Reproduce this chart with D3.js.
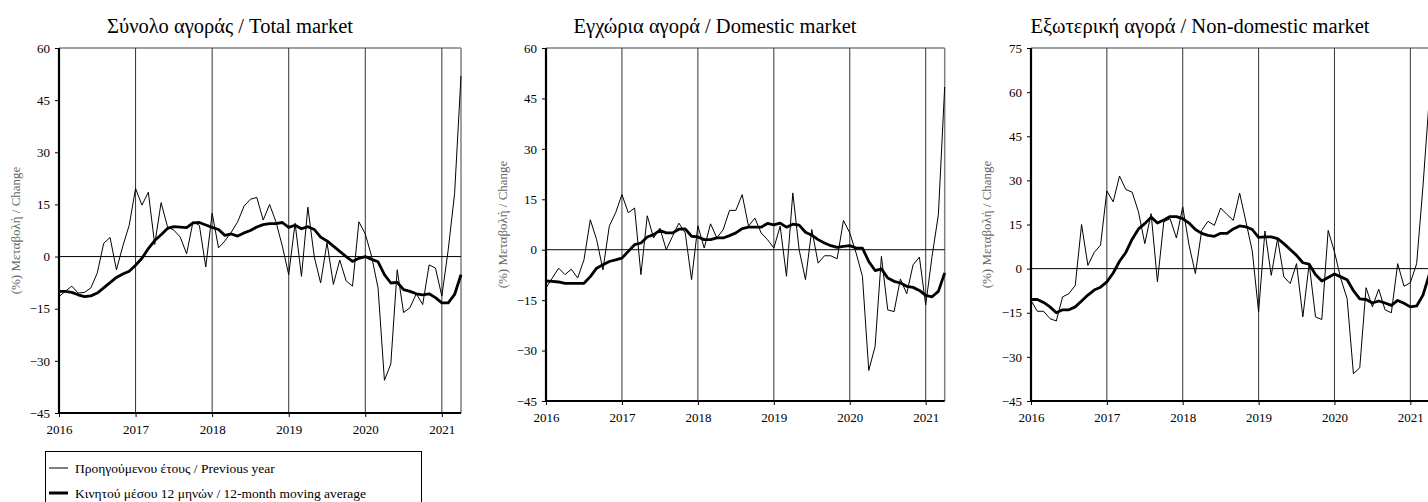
<!DOCTYPE html>
<html>
<head>
<meta charset="utf-8">
<script src="https://cdn.jsdelivr.net/npm/d3@7"></script>
<style>
  html, body { margin: 0; padding: 0; background: #fff; }
  svg { display: block; }
  svg text { font-family: "Liberation Serif", "DejaVu Serif", serif !important; fill: #000; }
</style>
</head>
<body>
<svg id="chart" width="1428" height="502"></svg>
<script>
// ---- Data (monthly, Jan 2016 – Apr 2021) ----
const years = ["2016", "2017", "2018", "2019", "2020", "2021"];
const titles = ["Σύνολο αγοράς / Total market", "Εγχώρια αγορά / Domestic market", "Εξωτερική αγορά / Non-domestic market"];
const yLabel = "(%) Μεταβολή / Change";
const legendLabels = ["Προηγούμενου έτους / Previous year", "Κινητού μέσου 12 μηνών / 12-month moving average"];

const totalPrev = [-11.5, -10, -8.5, -10.5, -10.3, -9, -4.7, 3.8, 5.5, -3.8, 3, 9,
  19.6, 14.8, 18.5, 3.5, 15.5, 8.6, 7.6, 5.6, 0.8, 10, 9, -3,
  12.5, 2.5, 4.5, 7, 10, 14.5, 16.5, 17, 10.5, 15, 10, 3,
  -5.2, 9.6, -5.7, 14.2, 0, -7.6, 4, -8, -1, -7, -8.5, 10,
  6.5, 0, -9, -35.6, -30.9, -3.8, -16.1, -14.7, -10.7, -13.8, -2.4, -3.3,
  -11.4, 2, 18.2, 52];
const totalMA = [-10, -10, -10.3, -11, -11.5, -11.3, -10.5, -9, -7.5, -6, -5, -4.2,
  -2.5, -0.5, 2.3, 4.6, 6.3, 8.1, 8.6, 8.5, 8.3, 9.7, 9.8, 9.1,
  8.4, 7.8, 6.1, 6.5, 5.9, 6.8, 7.5, 8.5, 9.2, 9.5, 9.5, 9.8,
  8.4, 9, 8, 8.6, 7.8, 5.6, 4.5, 3, 1.5, 0, -1.4, -0.5,
  0, -0.8, -1.5, -5.2, -7.6, -7.4, -9.5, -10, -10.7, -11, -10.7, -11.8,
  -13.3, -13.3, -10.9, -5.2];

const domPrev = [-11.4, -8.4, -5.5, -7.4, -5.8, -8.4, -3, 8.9, 3, -6, 7, 11,
  16.4, 11, 12.4, -7.4, 10.1, 3.5, 6.4, 0, 4, 7.9, 5, -8.9,
  7.1, 0.5, 7.7, 3.5, 6, 11.7, 11.7, 16.4, 7, 9.4, 5, 3,
  0.5, 7, -7.9, 16.9, 0, -8.9, 6, -4, -1.8, -1.8, -2.7, 8.7,
  5, -1, -7.9, -35.9, -28.8, -2, -17.9, -18.4, -8.7, -13.1, -4.5, -2.2,
  -16.4, -2, 10.4, 48.4];
const domMA = [-9.3, -9.4, -9.6, -10, -10, -10, -10, -8, -5.5, -4.5, -3.5, -3,
  -2.5, -0.5, 1.5, 2, 3.8, 4.5, 5.7, 5, 5, 6.1, 6.2, 4,
  3.8, 3, 3, 3.5, 3.5, 4.2, 5, 6.3, 6.7, 6.7, 6.7, 7.8,
  7.4, 7.9, 6.7, 7.6, 7.3, 5.2, 4.3, 3, 2, 1.2, 0.7, 1,
  1.2, 0.5, 0.5, -3.5, -6.2, -5.7, -8.4, -9.4, -9.9, -10.9, -11.2, -12.1,
  -13.6, -14, -12.4, -6.9];

const nonDomPrev = [-10.8, -14.5, -14.5, -17, -17.8, -9.6, -8.5, -5.7, 15, 1.1, 5.5, 8,
  26.4, 22.7, 31.5, 26.9, 26, 19.3, 8.5, 18.7, -4.5, 15.9, 17, 10.4,
  21, 8, -1.7, 13, 16.1, 14.7, 20.6, 18.4, 16.4, 25.7, 15.9, 6,
  -14.7, 12.8, -2.3, 10.2, -2.8, -5.1, 1.7, -16.4, 1.7, -16.4, -17.3, 13,
  5.7, -3.4, -10.2, -35.7, -33.7, -6.5, -13, -7, -14, -15, 1.7, -6,
  -4.8, 1.7, 28, 58];
const nonDomMA = [-10.5, -10.5, -11.5, -13, -15, -14, -14, -13, -11, -9, -7.3, -6.3,
  -4.5, -1.5, 2.5, 5.5, 10, 13.5, 15.3, 17.5, 15.5, 16.5, 17.7, 17.7,
  17, 15.5, 13.3, 12, 11.3, 11, 12, 12, 13.5, 14.5, 14.2, 13.3,
  10.6, 10.8, 10.8, 10.2, 8.5, 6.5, 4.5, 2, 1.5, -2, -4.2, -3,
  -1.8, -2.8, -3.8, -7.5, -10.3, -10.5, -11.7, -11, -11.7, -12.5, -10.8, -11.8,
  -13, -12.7, -9, -2];

// ---- Layout ----
const FONT = '"Liberation Serif", "DejaVu Serif", serif';
const svg = d3.select("#chart");
const panels = [
  { title: titles[0], prev: totalPrev, ma: totalMA, yDomain: [-45, 60],
    x0: 59, x1: 461, y0: 48, y1: 413, titleX: 230, labelX: 16 },
  { title: titles[1], prev: domPrev, ma: domMA, yDomain: [-45, 60],
    x0: 546, x1: 944.7, y0: 48, y1: 401, titleX: 715, labelX: 503 },
  { title: titles[2], prev: nonDomPrev, ma: nonDomMA, yDomain: [-45, 75],
    x0: 1031, x1: 1429.3, y0: 48, y1: 401, titleX: 1200, labelX: 987 }
];

panels.forEach(p => {
  const n = p.prev.length;
  const x = d3.scaleLinear().domain([0, n - 1]).range([p.x0, p.x1]);
  const y = d3.scaleLinear().domain(p.yDomain).range([p.y1, p.y0]);
  const g = svg.append("g");

  // title
  g.append("text").attr("x", p.titleX).attr("y", 33)
    .attr("text-anchor", "middle").style("font-size", "20.5px").style("font-family", FONT)
    .text(p.title);

  // y label
  g.append("text")
    .attr("transform", `translate(${p.labelX + 4},${(p.y0 + p.y1) / 2}) rotate(-90)`)
    .attr("text-anchor", "middle").style("font-size", "13px").style("fill", "#666")
    .style("font-family", FONT)
    .text(yLabel);

  // frame top / right (gray)
  g.append("line").attr("x1", p.x0).attr("x2", p.x1).attr("y1", p.y0).attr("y2", p.y0)
    .attr("stroke", "#808080").attr("stroke-width", 1.5);
  g.append("line").attr("x1", p.x1).attr("x2", p.x1).attr("y1", p.y0).attr("y2", p.y1)
    .attr("stroke", "#808080").attr("stroke-width", 1.5);

  // year gridlines
  const yearIdx = years.map((d, i) => i * 12);
  g.selectAll(".grid").data(yearIdx.slice(1)).enter().append("line")
    .attr("x1", d => x(d)).attr("x2", d => x(d))
    .attr("y1", p.y0).attr("y2", p.y1)
    .attr("stroke", "#333").attr("stroke-width", 1);

  // zero line
  g.append("line").attr("x1", p.x0).attr("x2", p.x1)
    .attr("y1", y(0)).attr("y2", y(0)).attr("stroke", "#000").attr("stroke-width", 1);

  // y axis
  const yTicks = d3.range(p.yDomain[0], p.yDomain[1] + 1, 15);
  const yAxis = d3.axisLeft(y).tickValues(yTicks).tickSize(4).tickPadding(5)
    .tickFormat(d3.format("d"));
  const ya = g.append("g").attr("transform", `translate(${p.x0},0)`).call(yAxis)
    .attr("font-family", FONT).attr("font-size", 13);
  ya.select(".domain").attr("stroke-width", 2.2).attr("d", `M0,${p.y0}V${p.y1}`);
  ya.selectAll("text").style("font-family", FONT).style("font-size", "13px");

  // x axis
  const xAxis = d3.axisBottom(x).tickValues(yearIdx).tickSize(4).tickPadding(8)
    .tickFormat((d, i) => years[i]);
  const xa = g.append("g").attr("transform", `translate(0,${p.y1})`).call(xAxis)
    .attr("font-family", FONT).attr("font-size", 13);
  xa.select(".domain").attr("stroke-width", 2.2).attr("d", `M${p.x0},0H${p.x1}`);
  xa.selectAll("text").style("font-family", FONT).style("font-size", "13px");

  // lines
  const line = d3.line().x((d, i) => x(i)).y(d => y(d));
  g.append("path").datum(p.prev).attr("d", line)
    .attr("fill", "none").attr("stroke", "#000").attr("stroke-width", 1)
    .attr("stroke-linejoin", "miter");
  g.append("path").datum(p.ma).attr("d", line)
    .attr("fill", "none").attr("stroke", "#000").attr("stroke-width", 2.8)
    .attr("stroke-linejoin", "round");
});

// ---- Legend ----
const lg = svg.append("g");
lg.append("rect").attr("x", 45.5).attr("y", 451.5).attr("width", 376).attr("height", 60)
  .attr("fill", "none").attr("stroke", "#000").attr("stroke-width", 1);
[[468, 1], [493, 3]].forEach(([yy, w], i) => {
  lg.append("line").attr("x1", 49).attr("x2", 68).attr("y1", yy).attr("y2", yy)
    .attr("stroke", "#000").attr("stroke-width", w);
  lg.append("text").attr("x", 75).attr("y", yy + 4.5).style("font-size", "13.5px")
    .style("font-family", FONT)
    .text(legendLabels[i]);
});
</script>
</body>
</html>
